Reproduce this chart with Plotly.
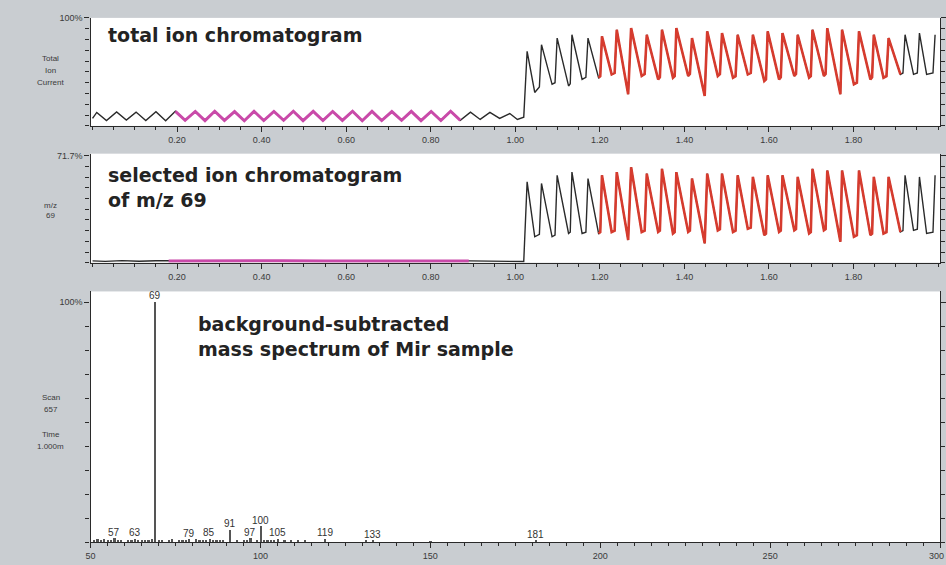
import plotly.graph_objects as go

# ---------------- data ----------------
# low-level region (0 - 1.02 min), total ion current (% of full scale)
tic_low_t = [0.000, 0.010, 0.033, 0.057, 0.080, 0.103, 0.126, 0.150, 0.173, 0.196, 0.219,
             0.243, 0.266, 0.289, 0.312, 0.336, 0.359, 0.382, 0.405, 0.429, 0.452, 0.475,
             0.498, 0.522, 0.545, 0.568, 0.591, 0.615, 0.638, 0.661, 0.684, 0.708, 0.731,
             0.754, 0.777, 0.801, 0.824, 0.847, 0.870, 0.894, 0.917, 0.940, 0.963, 0.987,
             1.005, 1.020]
tic_low_v = [7.0, 12.5, 5.0, 13.0, 5.5, 12.8, 5.0, 13.2, 4.8, 13.5, 5.2,
             13.4, 4.9, 13.6, 5.1, 13.3, 4.8, 13.5, 5.0, 13.4, 5.2, 13.6,
             4.9, 13.5, 5.0, 13.4, 5.1, 13.6, 4.8, 13.5, 5.0, 13.3, 5.2,
             13.5, 4.9, 13.4, 5.0, 13.6, 5.2, 12.8, 6.0, 12.5, 7.0, 11.5,
             6.0, 8.0]

# selected ion m/z 69, low region (% of full scale, top = 71.7%)
sic_low_t = [0.000, 0.030, 0.070, 0.110, 0.150, 0.180, 0.250, 0.350, 0.450, 0.550,
             0.650, 0.750, 0.850, 0.890, 0.950, 1.000, 1.020]
sic_low_v = [1.2, 0.9, 1.4, 1.0, 1.3, 1.2, 1.3, 1.2, 1.3, 1.2,
             1.3, 1.2, 1.3, 1.2, 0.9, 0.8, 0.8]

# periodic peaks after the step at 1.02 min
peak_t = [1.028, 1.062, 1.099, 1.134, 1.172, 1.205, 1.240, 1.274, 1.311, 1.347,
          1.381, 1.418, 1.454, 1.489, 1.526, 1.562, 1.597, 1.632, 1.668, 1.703,
          1.738, 1.773, 1.813, 1.848, 1.883, 1.922, 1.956, 1.993]
valley_t = [1.046, 1.087, 1.126, 1.158, 1.197, 1.228, 1.267, 1.299, 1.338, 1.373,
            1.409, 1.448, 1.479, 1.515, 1.550, 1.589, 1.624, 1.660, 1.695, 1.730,
            1.769, 1.801, 1.840, 1.871, 1.911, 1.942, 1.973]
# end of the flat stretch before the next rise (None where the valley is a sharp dip)
plateau_t = [1.057, 1.094, 1.130, 1.167, 1.201, 1.235, None, 1.306, 1.342, 1.377,
             1.413, None, 1.484, 1.521, 1.557, 1.593, 1.628, 1.664, 1.699, 1.734,
             None, 1.808, 1.844, 1.878, 1.917, 1.951, 1.988]

tic_peak = [69.1, 75.2, 81.3, 84.4, 81.3, 82.9, 89.0, 90.5, 84.4, 89.0,
            90.5, 81.3, 87.5, 85.9, 84.4, 84.4, 87.5, 85.9, 84.4, 89.0,
            90.5, 89.0, 87.5, 84.4, 81.3, 84.4, 85.9, 84.4]
tic_valley = [31.0, 38.5, 37.0, 43.1, 44.6, 47.7, 29.4, 46.2, 43.1, 44.6,
              46.2, 27.8, 46.2, 44.6, 47.7, 41.6, 43.1, 46.2, 44.6, 46.2,
              29.4, 38.5, 43.1, 44.6, 47.7, 47.7, 47.7]
tic_plateau = [36.0, 40.0, 39.0, 45.0, 46.0, 49.0, None, 48.0, 45.0, 46.0,
               48.0, None, 48.0, 46.0, 49.0, 43.0, 45.0, 48.0, 46.0, 48.0,
               None, 40.0, 45.0, 46.0, 49.0, 49.0, 49.0]

sic_peak = [54.3, 53.2, 58.7, 60.8, 56.5, 58.7, 60.8, 64.1, 59.8, 63.0,
            60.8, 56.5, 59.8, 59.8, 58.7, 57.6, 58.7, 58.7, 57.6, 63.0,
            61.9, 61.9, 61.9, 57.6, 57.6, 58.7, 57.6, 58.7]
sic_valley = [17.4, 17.4, 19.6, 19.6, 19.6, 20.6, 15.2, 20.6, 20.6, 19.6,
              20.6, 13.0, 21.7, 20.6, 22.8, 18.5, 20.6, 21.7, 19.6, 21.7,
              14.1, 17.4, 18.5, 19.6, 20.6, 21.7, 19.6]
sic_plateau = [19.0, 18.5, 20.5, 20.5, 20.5, 21.5, None, 21.5, 21.5, 20.5,
               21.5, None, 22.5, 21.5, 23.5, 19.5, 21.5, 22.5, 20.5, 22.5,
               None, 18.5, 19.5, 20.5, 21.5, 22.5, 20.5]

# background-subtracted mass spectrum
ms_mz = [51, 52, 53, 54, 55, 56, 57, 58, 59, 61, 62, 63, 64, 65, 66, 67, 68, 69,
         70, 71, 73, 74, 76, 77, 78, 79, 81, 82, 83, 84, 85, 86, 87, 88, 89, 91,
         93, 95, 96, 97, 99, 100, 101, 102, 103, 104, 105, 107, 109, 111, 113,
         119, 131, 133, 150, 181]
ms_int = [0.8, 1.0, 0.6, 1.2, 0.5, 0.7, 1.5, 0.6, 0.4, 0.5, 0.4, 1.2, 0.6, 0.8, 0.7, 0.9, 1.0, 100.0,
          0.5, 0.8, 0.6, 1.1, 0.7, 0.9, 0.5, 1.0, 1.0, 0.6, 0.8, 0.5, 1.3, 0.6, 0.8, 0.4, 0.6, 5.0,
          0.7, 0.5, 0.6, 1.5, 0.5, 6.5, 0.6, 0.8, 0.5, 0.7, 1.2, 0.6, 0.4, 0.4, 0.4,
          1.2, 0.4, 0.6, 0.3, 0.6]
ms_labels = ["57", "63", "69", "79", "85", "91", "97", "100", "105", "119", "133", "181"]

chrom_ticks = [0.2, 0.4, 0.6, 0.8, 1.0, 1.2, 1.4, 1.6, 1.8]
ms_ticks = [50, 100, 150, 200, 250]
ms_last_tick = "300"

# ---------------- build traces ----------------
def assemble(low_t, low_v, pk, vl, pl):
    t = list(low_t)
    v = list(low_v)
    for i in range(len(peak_t)):
        t.append(peak_t[i]); v.append(pk[i])
        if i < len(valley_t):
            t.append(valley_t[i]); v.append(vl[i])
            if plateau_t[i] is not None:
                t.append(plateau_t[i]); v.append(pl[i])
    return t, v

def segment(t, v, a, b):
    st, sv = [], []
    for ti, vi in zip(t, v):
        if a <= ti <= b:
            st.append(ti); sv.append(vi)
    return st, sv

tic_t, tic_v = assemble(tic_low_t, tic_low_v, tic_peak, tic_valley, tic_plateau)
sic_t, sic_v = assemble(sic_low_t, sic_low_v, sic_peak, sic_valley, sic_plateau)

BLACK = "#2a2a2a"
MAGENTA = "#c94aa9"
RED = "#d63b2e"

fig = go.Figure()
for (t, v, xa, ya) in [(tic_t, tic_v, "x", "y"), (sic_t, sic_v, "x2", "y2")]:
    fig.add_trace(go.Scatter(x=t, y=v, mode="lines", xaxis=xa, yaxis=ya,
                             line=dict(color=BLACK, width=1.4), hoverinfo="skip"))
    mt, mv = segment(t, v, 0.175, 0.89)
    fig.add_trace(go.Scatter(x=mt, y=mv, mode="lines", xaxis=xa, yaxis=ya,
                             line=dict(color=MAGENTA, width=3), hoverinfo="skip"))
    rt, rv = segment(t, v, 1.195, 1.912)
    fig.add_trace(go.Scatter(x=rt, y=rv, mode="lines", xaxis=xa, yaxis=ya,
                             line=dict(color=RED, width=2.6), hoverinfo="skip"))

fig.add_trace(go.Bar(x=ms_mz, y=ms_int, width=0.5, xaxis="x3", yaxis="y3",
                     marker=dict(color="#555555", line=dict(width=0))))

# ---------------- layout ----------------
W, H = 946, 565
def px_x(p):
    return p / W
def px_y(p):
    return 1 - p / H

TICKFONT = dict(family="Liberation Sans, Arial, sans-serif", size=9, color="#3a3a3a")
axis_common = dict(showgrid=False, zeroline=False, showline=True, linecolor=BLACK,
                   linewidth=1.3, ticks="outside", tickcolor=BLACK, tickwidth=1,
                   tickfont=TICKFONT, fixedrange=True)

xdom = [px_x(86), px_x(940)]
chrom_x = dict(axis_common, domain=xdom, range=[-0.0047, 2.0047], tickvals=chrom_ticks,
               ticktext=["%.2f" % v for v in chrom_ticks], ticklen=5, ticklabelstandoff=0,
               minor=dict(dtick=0.05, tick0=0, ticks="outside", ticklen=3, tickcolor=BLACK))

fig.update_layout(
    width=W, height=H, margin=dict(l=0, r=0, t=0, b=0),
    paper_bgcolor="#c9cdd1", plot_bgcolor="white", showlegend=False, bargap=0,
    xaxis=dict(chrom_x, anchor="y"),
    yaxis=dict(axis_common, domain=[px_y(122), px_y(13)], range=[0, 100], anchor="x",
               tickvals=[100], ticktext=["100%"], ticklen=5, mirror="ticks",
               minor=dict(dtick=10, tick0=0, ticks="outside", ticklen=4, tickcolor=BLACK)),
    xaxis2=dict(chrom_x, anchor="y2"),
    yaxis2=dict(axis_common, domain=[px_y(260), px_y(150)], range=[0, 73.2], anchor="x2",
                tickvals=[71.7], ticktext=["71.7%"], ticklen=5, mirror="ticks",
                minor=dict(dtick=7.17, tick0=0, ticks="outside", ticklen=4, tickcolor=BLACK)),
    xaxis3=dict(axis_common, domain=xdom, range=[50, 300], anchor="y3",
                tickvals=ms_ticks + [300], ticktext=[str(v) for v in ms_ticks] + [""],
                ticklen=5, ticklabelstandoff=0,
                minor=dict(dtick=5, tick0=50, ticks="outside", ticklen=3, tickcolor=BLACK)),
    yaxis3=dict(axis_common, domain=[px_y(542), px_y(289)], range=[0, 104.5], anchor="x3",
                tickvals=[100], ticktext=["100%"], ticklen=5, mirror="ticks",
                minor=dict(dtick=10, tick0=0, ticks="outside", ticklen=4, tickcolor=BLACK)),
)

TITLE = dict(family="DejaVu Sans, sans-serif", size=19, color="#232323")
SIDE = dict(family="Liberation Sans, Arial, sans-serif", size=8, color="#3a3a3a")
ann = []
def paper_text(text, x, y, font, xanchor="left"):
    ann.append(dict(text=text, x=px_x(x), y=px_y(y), xref="paper", yref="paper",
                    xanchor=xanchor, yanchor="middle", showarrow=False, font=font))

paper_text("<b>total ion chromatogram</b>", 102, 30, TITLE)
paper_text("<b>selected ion chromatogram</b>", 102, 172, TITLE)
paper_text("<b>of m/z 69</b>", 102, 197, TITLE)
paper_text("<b>background-subtracted</b>", 192, 322, TITLE)
paper_text("<b>mass spectrum of Mir sample</b>", 192, 347, TITLE)

for txt, y in [("Total", 54), ("Ion", 66), ("Current", 78), ("m/z", 202), ("69", 212),
               ("Scan", 396), ("657", 408), ("Time", 433), ("1.000m", 445)]:
    paper_text(txt, 46, y, SIDE, xanchor="center")

# last tick label of the spectrum axis, kept inside the page at the right edge
paper_text(ms_last_tick, 946, 556, TICKFONT, xanchor="right")

LBL = dict(family="Liberation Sans, Arial, sans-serif", size=10, color="#333333")
for lab in ms_labels:
    m = int(lab)
    h = ms_int[ms_mz.index(m)]
    ann.append(dict(text=lab, x=m, y=h, xref="x3", yref="y3", xanchor="center",
                    yanchor="bottom", yshift=-1, showarrow=False, font=LBL))

fig.update_layout(annotations=ann)
fig.write_html("out.html")
